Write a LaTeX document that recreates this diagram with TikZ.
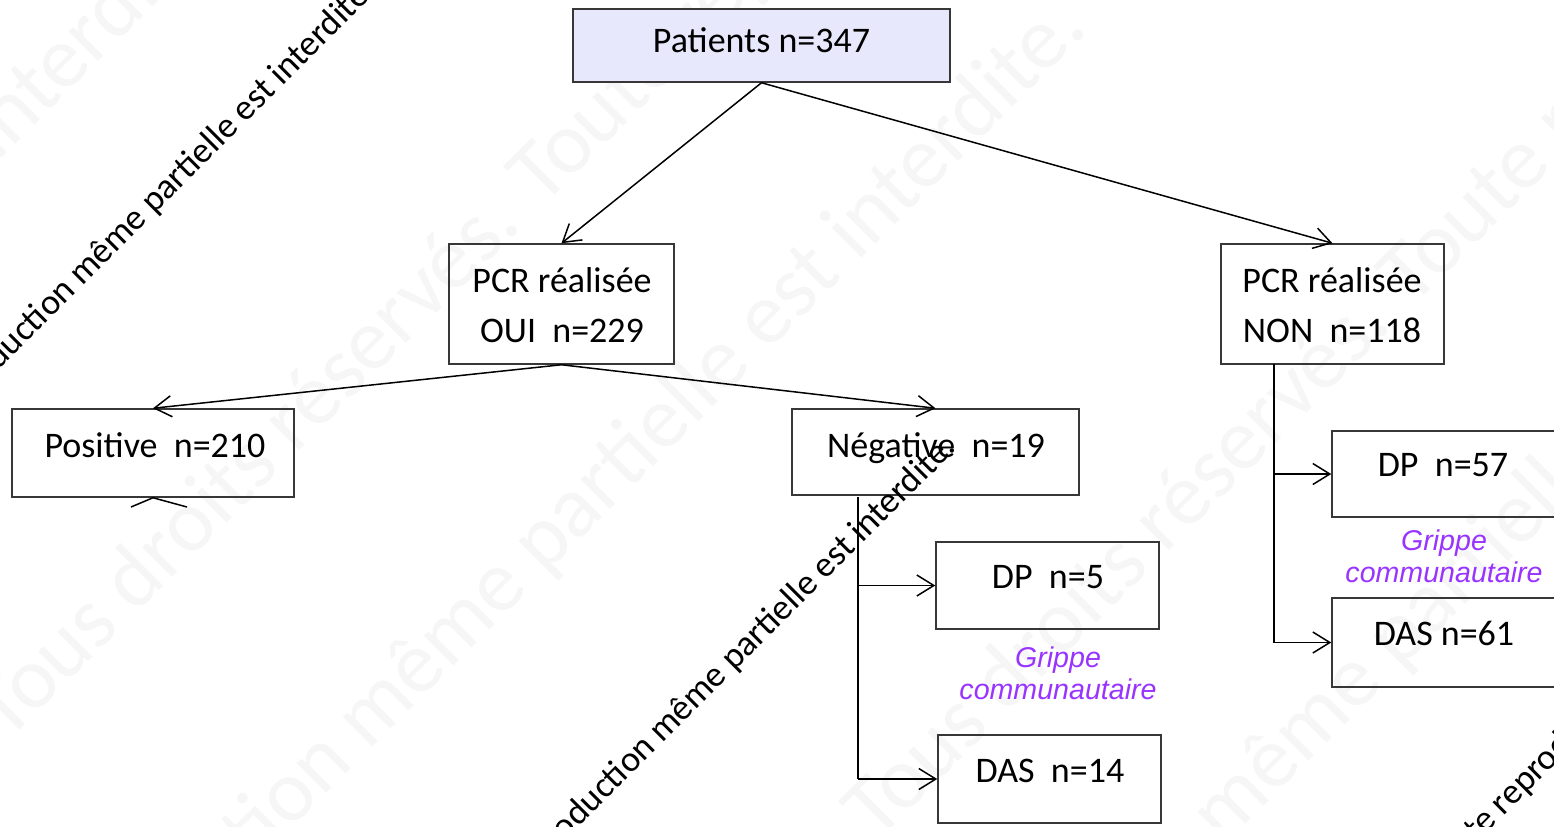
\documentclass[tikz,border=0pt]{standalone}
\usepackage{fontspec}
\setmainfont{Carlito}
\newfontfamily\arialfont{Liberation Sans}
\usetikzlibrary{arrows.meta}
\definecolor{lav}{RGB}{232,232,252}
\definecolor{boxline}{RGB}{55,55,55}
\definecolor{grippe}{RGB}{153,51,255}
\definecolor{faint}{RGB}{246,246,246}

\begin{document}
\begin{tikzpicture}[x=0.5pt,y=-0.5pt,
  box/.style={draw=boxline, line width=0.75pt, rectangle, inner sep=0pt},
  lbl/.style={font=\fontsize{18}{25}\selectfont, anchor=base, inner sep=0pt},
  note/.style={font=\arialfont\itshape\fontsize{14.3}{16.5}\selectfont, text=grippe, anchor=base, inner sep=0pt},
  link/.style={line width=0.75pt, -{Straight Barb[length=8.5pt,width=10.5pt,line width=0.75pt]}},
  trunk/.style={line width=0.75pt},
  wm/.style={font=\fontsize{18}{18}\selectfont, anchor=base west, rotate=45, inner sep=0pt},
  ghost/.style={font=\fontsize{44}{44}\selectfont, text=faint, anchor=base west, rotate=45, inner sep=0pt}]

\useasboundingbox (0,0) rectangle (1554,826);
\clip (0,0) rectangle (1554,826);

% faint background notice, repeated along diagonals
\foreach \gx/\gy [count=\k] in {7/743, -666/1786, 877/843, 189/1881, -1526/1686}
  \node[ghost] (ghost\k) at (\gx,\gy) {Tous droits réservés. Toute reproduction même partielle est interdite.};

% boxes
\node[box, fill=lav, minimum width=188.5pt, minimum height=36.5pt] (pat) at (761.5,45.5) {};
\node[box, minimum width=112.5pt, minimum height=60pt] (oui) at (561.5,304) {};
\node[box, minimum width=111.5pt, minimum height=60pt] (non) at (1332.5,304) {};
\node[box, minimum width=141pt, minimum height=44pt] (pos) at (153,453) {};
\node[box, minimum width=143.5pt, minimum height=43pt] (neg) at (935.5,452) {};
\node[box, minimum width=111.5pt, minimum height=43.5pt] (dpa) at (1047.5,585.5) {};
\node[box, minimum width=111.5pt, minimum height=44pt] (dasa) at (1049.5,779) {};
\node[box, minimum width=112pt, minimum height=43pt] (dpb) at (1444,474) {};
\node[box, minimum width=112pt, minimum height=44.5pt] (dasb) at (1444,642.5) {};

% box texts
\node[lbl] (tpat) at (761.5,52) {Patients n=347};
\node[lbl] (toui1) at (562,292) {PCR réalisée};
\node[lbl] (toui2) at (562,342) {OUI\ \ n=229};
\node[lbl] (tnon1) at (1332,292) {PCR réalisée};
\node[lbl] (tnon2) at (1332,342) {NON\ \ n=118};
\node[lbl] (tpos) at (155,457) {Positive\ \ n=210};
\node[lbl] (tneg) at (936,457) {Négative\ \ n=19};
\node[lbl] (tdpa) at (1048,588) {DP\ \ n=5};
\node[lbl] (tdasa) at (1050,782) {DAS\ \ n=14};
\node[lbl] (tdpb) at (1443,476) {DP\ \ n=57};
\node[lbl] (tdasb) at (1444,645) {DAS n=61};

% notes
\node[note] (na1) at (1058,667) {Grippe};
\node[note] (na2) at (1058,699) {communautaire};
\node[note] (nb1) at (1444,550) {Grippe};
\node[note] (nb2) at (1444,582) {communautaire};

% connectors
\draw[link] (pat.south) -- (oui.north);
\draw[link] (pat.south) -- (non.north);
\draw[link] (oui.south) -- (pos.north);
\draw[link] (oui.south) -- (neg.north);

\coordinate (negtop) at (858,497);
\coordinate (negbot) at (858,779);
\draw[trunk] (negtop) -- (negbot);
\draw[link] (negtop |- dpa.west) -- (dpa.west);
\draw[link] (negbot) -- (dasa.west);

\coordinate (nontop) at (1274,364);
\coordinate (nonbot) at (1274,642.5);
\draw[trunk] (nontop) -- (nonbot);
\draw[link] (nontop |- dpb.west) -- (dpb.west);
\draw[link] (nonbot) -- (dasb.west);

% arrowhead fragment under the Positive box
\coordinate (fragl) at (131,507);
\coordinate (fragr) at (187,507);
\draw[trunk] (fragl) -- (pos.south) -- (fragr);

% notice lines
\node[wm] (w1) at (-122,491) {Toute reproduction même partielle est interdite.};
\node[wm] (w2) at (458,948) {Toute reproduction même partielle est interdite.};
\node[wm] (w3) at (1440,880) {Toute reproduction même partielle est interdite.};
\end{tikzpicture}
\end{document}
